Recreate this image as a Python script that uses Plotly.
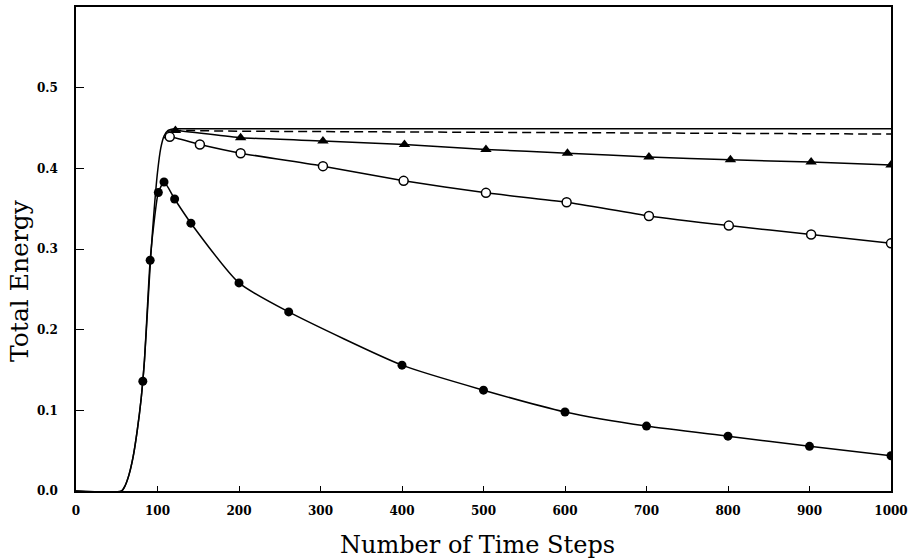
import plotly.graph_objects as go

# Shared rising curve + flat top (solid line)
rise_x = [0, 56, 60, 65, 70, 75, 80, 84, 88, 92, 96, 100, 104, 108, 113, 122, 140, 200, 400, 600, 800, 1000]
rise_y = [0, 0, 0.006, 0.02, 0.042, 0.074, 0.115, 0.162, 0.228, 0.295, 0.35, 0.395, 0.425, 0.44, 0.447, 0.449, 0.449, 0.449, 0.449, 0.449, 0.449, 0.449]

# Dashed curve
dash_x = [118, 130, 200, 400, 600, 800, 1000]
dash_y = [0.447, 0.447, 0.446, 0.445, 0.444, 0.443, 0.4425]

# Triangle series
tri_x = [122, 202, 303, 403, 503, 603, 703, 803, 902, 1000]
tri_y = [0.447, 0.438, 0.434, 0.4296, 0.4234, 0.4188, 0.4142, 0.4105, 0.4077, 0.404]
tri_line_x = [112] + tri_x
tri_line_y = [0.446] + tri_y

# Open circle series
open_x = [115, 152, 202, 303, 402, 503, 602, 703, 801, 902, 1000]
open_y = [0.439, 0.4296, 0.4188, 0.4027, 0.3845, 0.3696, 0.358, 0.341, 0.329, 0.318, 0.307]
open_line_x = [108] + open_x
open_line_y = [0.438] + open_y

# Filled circle series
fill_line_x = [0, 56, 60, 65, 70, 75, 80, 84, 88, 91, 96, 101, 108, 121, 141, 200, 261, 400, 500, 600, 700, 800, 900, 1000]
fill_line_y = [0, 0, 0.006, 0.02, 0.042, 0.074, 0.115, 0.162, 0.235, 0.286, 0.335, 0.37, 0.383, 0.362, 0.332, 0.258, 0.222, 0.156, 0.125, 0.098, 0.0805, 0.068, 0.0554, 0.0437]
fill_x = [82, 91, 101, 108, 121, 141, 200, 261, 400, 500, 600, 700, 800, 900, 1000]
fill_y = [0.136, 0.286, 0.37, 0.383, 0.362, 0.332, 0.258, 0.222, 0.156, 0.125, 0.098, 0.0805, 0.068, 0.0554, 0.0437]

x_ticks = [0, 100, 200, 300, 400, 500, 600, 700, 800, 900, 1000]
y_ticks = [0.0, 0.1, 0.2, 0.3, 0.4, 0.5]
y_tick_text = ["0.0", "0.1", "0.2", "0.3", "0.4", "0.5"]

LW = 1.5
fig = go.Figure()
fig.add_trace(go.Scatter(x=rise_x, y=rise_y, mode="lines",
                         line=dict(color="black", width=LW, shape="spline", smoothing=0.6)))
fig.add_trace(go.Scatter(x=dash_x, y=dash_y, mode="lines",
                         line=dict(color="black", width=LW, dash="9px,5px")))
fig.add_trace(go.Scatter(x=tri_line_x, y=tri_line_y, mode="lines",
                         line=dict(color="black", width=LW, shape="spline", smoothing=0.5)))
fig.add_trace(go.Scatter(x=tri_x, y=tri_y, mode="markers",
                         marker=dict(symbol="triangle-up", size=10, color="black")))
fig.add_trace(go.Scatter(x=open_line_x, y=open_line_y, mode="lines",
                         line=dict(color="black", width=LW, shape="spline", smoothing=0.5)))
fig.add_trace(go.Scatter(x=open_x, y=open_y, mode="markers",
                         marker=dict(symbol="circle", size=9, color="white",
                                     line=dict(color="black", width=1.5))))
fig.add_trace(go.Scatter(x=fill_line_x, y=fill_line_y, mode="lines",
                         line=dict(color="black", width=LW, shape="spline", smoothing=0.6)))
fig.add_trace(go.Scatter(x=fill_x, y=fill_y, mode="markers",
                         marker=dict(symbol="circle", size=9, color="black")))

serif = "DejaVu Serif"
tickfont = dict(family=serif, size=12, weight="bold")
fig.update_layout(
    width=910, height=560,
    margin=dict(l=76, r=19, t=7, b=69),
    paper_bgcolor="white", plot_bgcolor="white",
    showlegend=False,
    font=dict(family=serif, color="black"),
    xaxis=dict(range=[0, 1000], tickvals=x_ticks, ticks="inside", ticklen=5,
               tickwidth=1.2, tickcolor="black", showgrid=False, zeroline=False,
               showline=True, linecolor="black", linewidth=1.5, mirror=True,
               tickfont=tickfont, ticklabelstandoff=8, automargin=False),
    yaxis=dict(range=[0, 0.6], tickvals=y_ticks, ticktext=y_tick_text, ticks="inside",
               ticklen=8, tickwidth=1.2, tickcolor="black", showgrid=False, zeroline=False,
               showline=True, linecolor="black", linewidth=1.5, mirror=True,
               tickfont=tickfont, ticklabelstandoff=14, automargin=False),
    annotations=[
        dict(text="Number of Time Steps", xref="paper", yref="paper", x=0.4926, y=0,
             xanchor="center", yanchor="middle", yshift=-54, showarrow=False,
             font=dict(family=serif, size=24)),
        dict(text="Total Energy", xref="paper", yref="paper", x=0, y=0.434,
             xanchor="center", yanchor="middle", xshift=-56, textangle=-90, showarrow=False,
             font=dict(family=serif, size=25)),
    ],
)

fig.write_html("out.html", config={"displayModeBar": False},
               post_script="document.body.style.margin='0';document.body.style.padding='0';")
